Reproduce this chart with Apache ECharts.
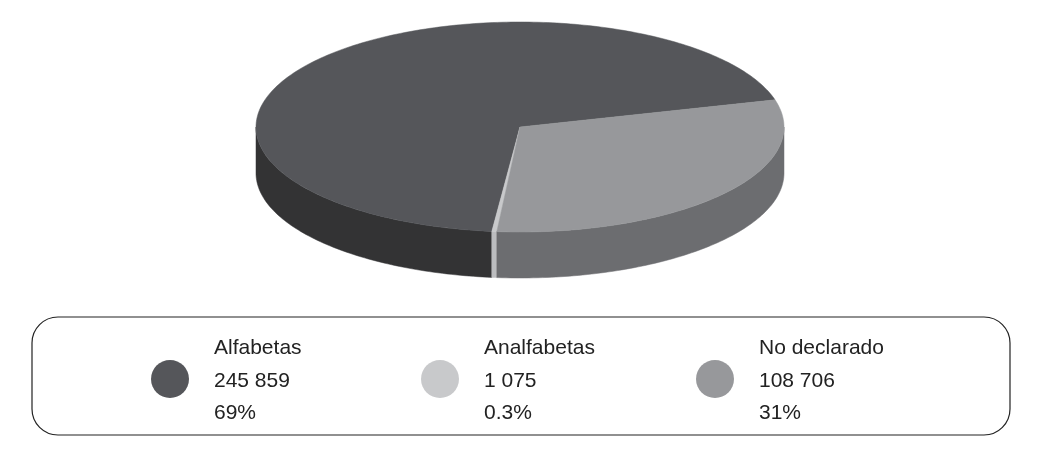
<!DOCTYPE html>
<html><head><meta charset="utf-8">
<script src="https://cdn.jsdelivr.net/npm/echarts@6/dist/echarts.min.js"></script>
<style>html,body{margin:0;padding:0;background:#fff}#c{width:1044px;height:460px}</style>
</head><body><div id="c"></div>
<script>
var categories = ['Alfabetas', 'Analfabetas', 'No declarado'];
var values = [245859, 1075, 108706];
var valueLabels = ['245 859', '1 075', '108 706'];
var percentLabels = ['69%', '0.3%', '31%'];
var topColors = ['#55565a', '#c8c9cb', '#97989b'];
var sideColors = ['#333334', '#bcbdbf', '#6c6d70'];

var cx = 520, cy = 127, rx = 264, ry = 105, depth = 46, startAngle = 15;
var total = values.reduce(function (a, b) { return a + b; }, 0);

function pt(t, dy) {
    var r = t * Math.PI / 180;
    return [cx + rx * Math.cos(r), cy - ry * Math.sin(r) + (dy || 0)];
}
function arc(a0, a1, dy) {
    var pts = [], n = Math.max(2, Math.ceil((a1 - a0) / 1));
    for (var k = 0; k <= n; k++) pts.push(pt(a0 + (a1 - a0) * k / n, dy));
    return pts;
}

var slices = [], acc = startAngle;
values.forEach(function (v) {
    var a0 = acc, a1 = acc + 360 * v / total;
    slices.push([a0, a1]);
    acc = a1;
});

var chart = echarts.init(document.getElementById('c'));
function renderItem(params, api) {
    var i = params.dataIndex, a0 = slices[i][0], a1 = slices[i][1];
    var children = [];
    [[180, 360], [540, 720]].forEach(function (w) {
        var s = Math.max(a0, w[0]), e = Math.min(a1, w[1]);
        if (e > s) {
            var top = arc(s, e, 0), bot = arc(s, e, depth).reverse();
            children.push({ type: 'polygon', shape: { points: top.concat(bot) },
                style: { fill: sideColors[i], stroke: sideColors[i], lineWidth: 0.5 } });
        }
    });
    children.push({ type: 'polygon', shape: { points: [[cx, cy]].concat(arc(a0, a1, 0)) },
        style: { fill: topColors[i], stroke: topColors[i], lineWidth: 0.5 } });
    return { type: 'group', children: children };
}

var graphics = [{
    type: 'rect', shape: { x: 32, y: 317, width: 978, height: 118, r: 26 },
    style: { fill: '#fff', stroke: '#222', lineWidth: 1.2 }
}];
var lx = [170, 440, 715];
categories.forEach(function (c, i) {
    graphics.push({ type: 'circle', shape: { cx: lx[i], cy: 379, r: 19 }, style: { fill: topColors[i] } });
    graphics.push({ type: 'text', x: lx[i] + 44, y: 332,
        style: { text: c + '\n' + valueLabels[i] + '\n' + percentLabels[i],
            font: '21px "Liberation Sans", Arial, sans-serif', fill: '#222', lineHeight: 32.5 } });
});

chart.setOption({
    animation: false,
    graphic: graphics,
    series: [{
        type: 'custom', coordinateSystem: 'none',
        renderItem: renderItem,
        data: categories.map(function (c, i) { return [i]; })
    }]
});
</script></body></html>
